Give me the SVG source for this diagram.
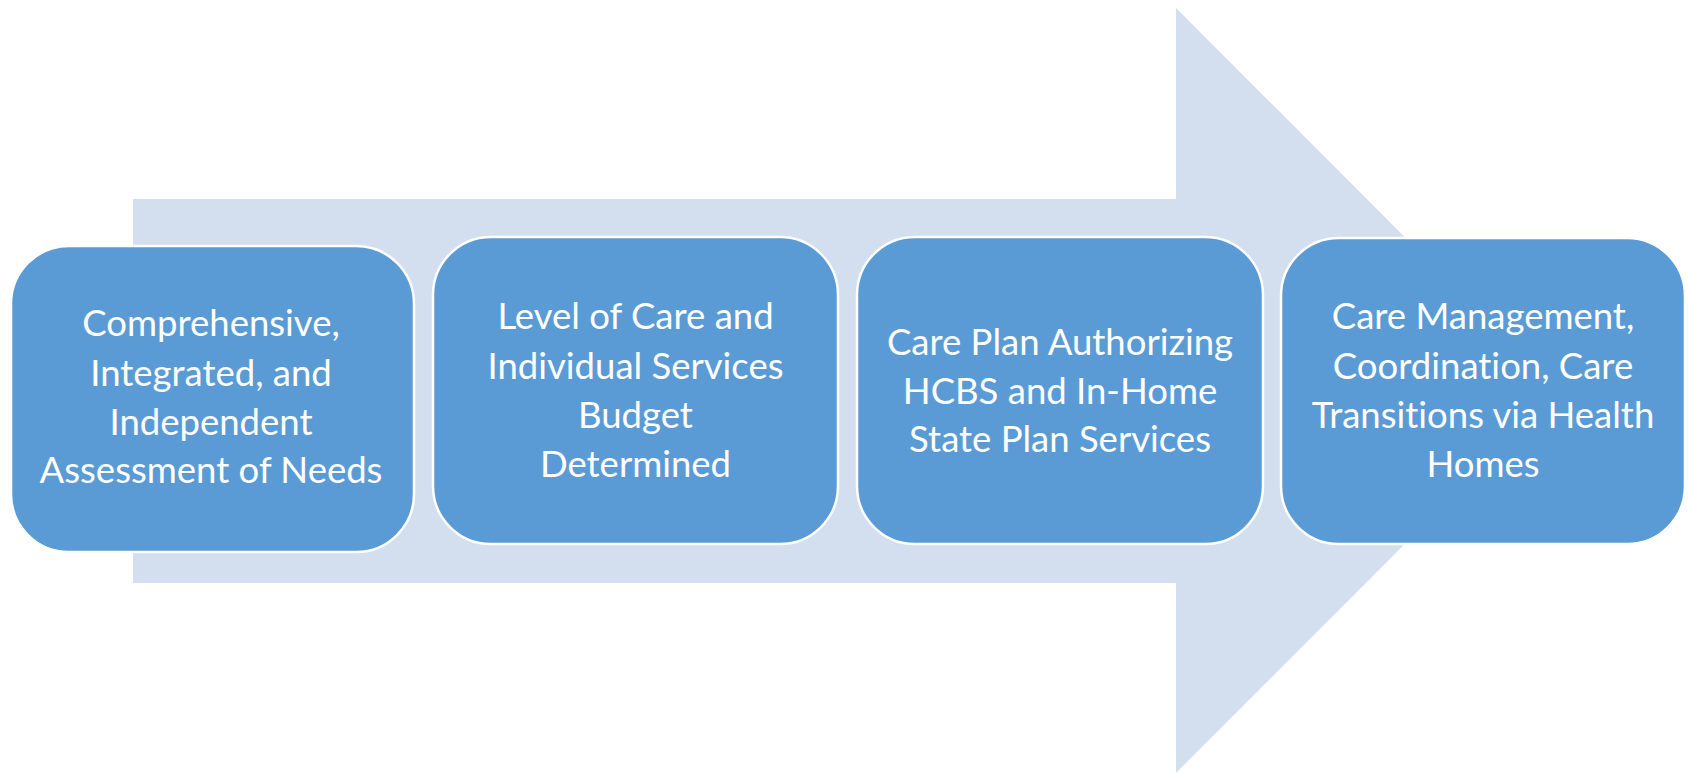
<svg xmlns="http://www.w3.org/2000/svg" width="1688" height="774" viewBox="0 0 1688 774">
<style>
.box{fill:#5B9BD5;stroke:#FFFFFF;stroke-width:2.5}
.lbl{fill:#FFFFFF;font-family:Lato,"Open Sans","Liberation Sans",sans-serif;font-size:36.5px;text-anchor:middle;font-variant-ligatures:none}
</style>
<rect width="1688" height="774" fill="#FFFFFF"/>
<g id="arrow">
<polygon points="133,199 1176,199 1176,8 1558,390.5 1176,773 1176,583 133,583" fill="#D3DEEF"/>
</g>
<g id="node1">
<rect class="box" x="11" y="246" width="403" height="306" rx="58"/>
<text class="lbl" x="211" y="336">Comprehensive,</text>
<text class="lbl" x="211" y="386">Integrated, and</text>
<text class="lbl" x="211" y="435">Independent</text>
<text class="lbl" x="211" y="483">Assessment of Needs</text>
</g>
<g id="node2">
<rect class="box" x="433" y="237" width="405" height="307" rx="58"/>
<text class="lbl" x="635.5" y="329">Level of Care and</text>
<text class="lbl" x="635.5" y="379">Individual Services</text>
<text class="lbl" x="635.5" y="428">Budget</text>
<text class="lbl" x="635.5" y="477">Determined</text>
</g>
<g id="node3">
<rect class="box" x="857" y="237" width="406" height="307" rx="58"/>
<text class="lbl" x="1060" y="355">Care Plan Authorizing</text>
<text class="lbl" x="1060" y="404">HCBS and In-Home</text>
<text class="lbl" x="1060" y="452">State Plan Services</text>
</g>
<g id="node4">
<rect class="box" x="1281" y="238" width="404" height="306" rx="58"/>
<text class="lbl" x="1483" y="329">Care Management,</text>
<text class="lbl" x="1483" y="379">Coordination, Care</text>
<text class="lbl" x="1483" y="428">Transitions via Health</text>
<text class="lbl" x="1483" y="477">Homes</text>
</g>
<g id="connectors"></g>
</svg>
